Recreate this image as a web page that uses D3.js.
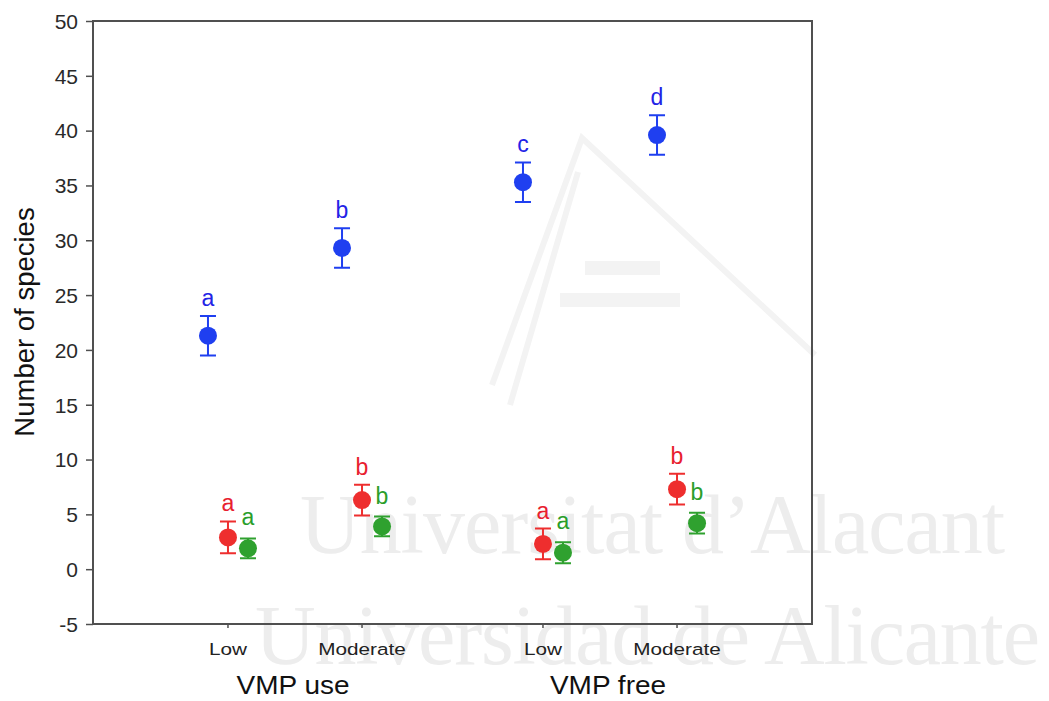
<!DOCTYPE html>
<html>
<head>
<meta charset="utf-8">
<script src="https://cdn.jsdelivr.net/npm/d3@7"></script>
<style>
  html, body { margin: 0; padding: 0; background: #ffffff; }
  svg { display: block; font-family: "Liberation Sans", Arial, sans-serif; }
</style>
</head>
<body>
<svg id="chart" width="1049" height="701"></svg>
<script>
// Grouping of the x axis
const groups = ["VMP use", "VMP free"];
const levels = ["Low", "Moderate"];

// Three species series, one value per group × level (VMP use Low, Moderate, VMP free Low, Moderate)
const seriesNames = ["blue", "red", "green"];
const meansBlue  = [21.3, 29.3, 35.3, 39.6];
const errBlue    = [1.8, 1.8, 1.8, 1.8];
const lettersBlue = ["a", "b", "c", "d"];

const meansRed   = [2.9, 6.3, 2.3, 7.3];
const errRed     = [1.45, 1.4, 1.4, 1.4];
const lettersRed = ["a", "b", "a", "b"];

const meansGreen = [1.9, 3.9, 1.5, 4.2];
const errGreen   = [0.9, 0.9, 0.95, 0.95];
const lettersGreen = ["a", "b", "a", "b"];

const yTicks = [-5, 0, 5, 10, 15, 20, 25, 30, 35, 40, 45, 50];

const colors = { blue: "#1f3ff0", red: "#ee2e2e", green: "#2fa12f" };
const letterColors = { blue: "#2323e6", red: "#e8202e", green: "#2a9e2a" };

const svg = d3.select("#chart");
const frame = { left: 93, top: 21, right: 812, bottom: 624 };

const y = d3.scaleLinear().domain([-5, 50]).range([frame.bottom, frame.top]);
const outer = d3.scaleBand().domain(groups).range([137.5, 767.5]);
const inner = d3.scalePoint().domain(levels).range([0, outer.bandwidth()]).padding(0.675);
const dodge = d3.scalePoint().domain(seriesNames).range([-20, 20]);

// Faint background watermark
const wm = svg.append("g").attr("fill", "#ededed").attr("font-family", "'Liberation Serif', 'DejaVu Serif', serif");
wm.append("text").attr("x", 300).attr("y", 553).attr("font-size", 84).attr("textLength", 705).text("Universitat d\u2019Alacant");
wm.append("text").attr("x", 255).attr("y", 664).attr("font-size", 84).attr("textLength", 785).text("Universidad de Alicante");
const logo = svg.append("g").attr("fill", "none").attr("stroke", "#f3f3f3").attr("stroke-width", 6);
logo.append("path").attr("d", "M492,385 L582,138 L815,355");
logo.append("path").attr("d", "M510,405 L578,172");
logo.append("path").attr("d", "M585,268 L660,268 M560,300 L680,300").attr("stroke-width", 14);

// Flattened rows
const cats = [];
groups.forEach(g => levels.forEach(l => cats.push({ g, l })));
const seriesData = {
  blue:  { means: meansBlue,  errs: errBlue,  letters: lettersBlue },
  red:   { means: meansRed,   errs: errRed,   letters: lettersRed },
  green: { means: meansGreen, errs: errGreen, letters: lettersGreen }
};
const rows = [];
seriesNames.forEach(s => {
  cats.forEach((c, i) => rows.push({
    s, g: c.g, l: c.l,
    v: seriesData[s].means[i],
    e: seriesData[s].errs[i],
    letter: seriesData[s].letters[i]
  }));
});
const catX = d => outer(d.g) + inner(d.l);
const px = d => catX(d) + dodge(d.s);

// Frame
svg.append("rect")
  .attr("x", frame.left).attr("y", frame.top)
  .attr("width", frame.right - frame.left).attr("height", frame.bottom - frame.top)
  .attr("fill", "none").attr("stroke", "#505050").attr("stroke-width", 2);

// Y axis
const yAxis = svg.append("g")
  .attr("transform", `translate(${frame.left},0)`)
  .call(d3.axisLeft(y).tickValues(yTicks).tickSize(7).tickPadding(8).tickFormat(d => String(d)));
yAxis.select(".domain").remove();
yAxis.selectAll(".tick line").attr("stroke", "#505050").attr("stroke-width", 1.5);
yAxis.selectAll(".tick text")
  .attr("font-size", 21).attr("fill", "#2a2a2a")
  .attr("font-family", "'Liberation Sans', Arial, sans-serif")
  .attr("dy", "0.35em");

// X ticks and labels
const xt = svg.append("g");
xt.selectAll("line").data(cats).join("line")
  .attr("x1", catX).attr("x2", catX)
  .attr("y1", frame.bottom).attr("y2", frame.bottom + 4)
  .attr("stroke", "#505050").attr("stroke-width", 1.5);
xt.selectAll("text.lvl").data(cats).join("text").attr("class", "lvl")
  .attr("transform", d => `translate(${catX(d)},655) scale(1.22,1)`)
  .attr("text-anchor", "middle").attr("font-size", 17).attr("fill", "#222")
  .text(d => d.l);
xt.selectAll("text.grp").data(groups).join("text").attr("class", "grp")
  .attr("transform", g => `translate(${outer(g) + outer.bandwidth() / 2 - 2},694) scale(1.12,1)`)
  .attr("text-anchor", "middle").attr("font-size", 25).attr("fill", "#111")
  .text(g => g);

// Y title
svg.append("text")
  .attr("transform", `translate(34,322) rotate(-90)`)
  .attr("text-anchor", "middle").attr("font-size", 27.5).attr("fill", "#111")
  .text("Number of species");

// Error bars
const eb = svg.append("g");
const cap = 8;
eb.selectAll("path").data(rows).join("path")
  .attr("d", d => {
    const x = px(d), t = y(d.v + d.e), b = y(d.v - d.e);
    return `M${x},${t}V${b}M${x - cap},${t}H${x + cap}M${x - cap},${b}H${x + cap}`;
  })
  .attr("fill", "none")
  .attr("stroke", d => colors[d.s])
  .attr("stroke-width", 2);

// Points
svg.append("g").selectAll("circle").data(rows).join("circle")
  .attr("cx", px).attr("cy", d => y(d.v)).attr("r", 9)
  .attr("fill", d => colors[d.s]);

// Significance letters
svg.append("g").selectAll("text").data(rows).join("text")
  .attr("x", px)
  .attr("y", d => y(d.v + d.e) - (d.s === "green" ? 13 : 10))
  .attr("text-anchor", "middle").attr("font-size", 23)
  .attr("fill", d => letterColors[d.s])
  .text(d => d.letter);
</script>
</body>
</html>
